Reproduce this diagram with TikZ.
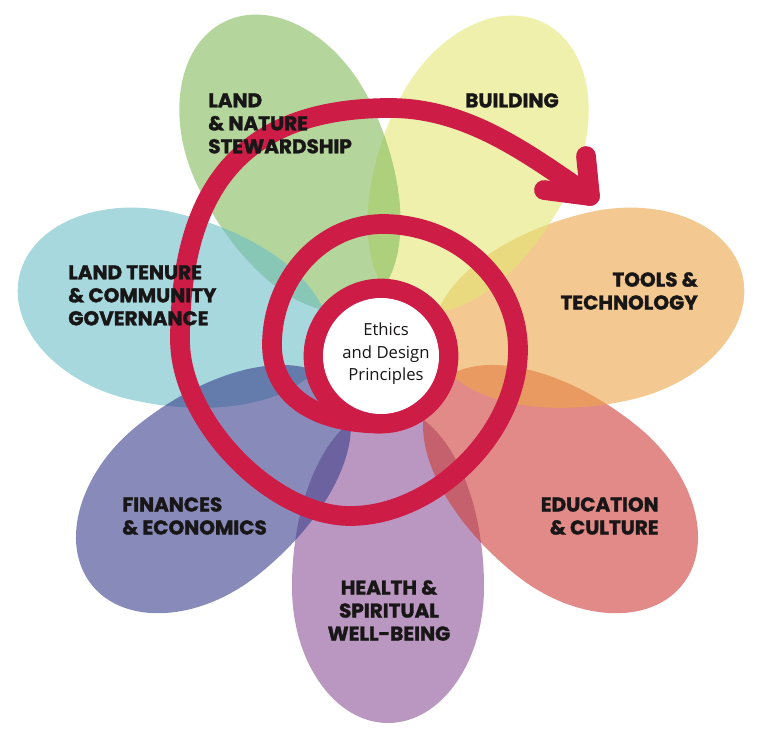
\documentclass[tikz,border=0pt]{standalone}
\usepackage{fontspec}
\newfontfamily\labfont{Poppins}[BoldFeatures={FakeBold=1.5}]
\newfontfamily\handfont{Open Sans}
\definecolor{cpurple}{RGB}{140,83,150}
\definecolor{cred}{RGB}{205,60,55}
\definecolor{corange}{RGB}{237,165,73}
\definecolor{cyellow}{RGB}{227,230,117}
\definecolor{cgreen}{RGB}{130,188,93}
\definecolor{cteal}{RGB}{107,190,200}
\definecolor{cblue}{RGB}{57,63,140}
\definecolor{spiralred}{RGB}{205,29,71}
\definecolor{labelblack}{RGB}{24,22,22}
\newcommand{\flowerpetal}[4]{%
  \begin{scope}[shift={(#1,#2)}, rotate=#3]
    \fill[petalfill, #4] (0,-96) arc[start angle=-90, end angle=90, x radius=136, y radius=96]
      arc[start angle=90, end angle=270, x radius=180, y radius=96] -- cycle;
  \end{scope}}
\tikzset{
  petalfill/.style={fill opacity=0.6},
  spiralline/.style={draw=spiralred, line width=14.8pt, line cap=round, line join=round},
  lab/.style={font=\labfont\bfseries\fontsize{15}{17.25}\selectfont, text=labelblack, inner sep=0pt},
  hand/.style={font=\handfont\fontsize{12.5}{17}\selectfont, text=labelblack, align=center, inner sep=0pt},
}
\begin{document}
\begin{tikzpicture}[x=0.75pt, y=-0.75pt]
\useasboundingbox (0,0) rectangle (768,735);
\fill[white] (0,0) rectangle (768,735);
% petals (bottom to top)
\flowerpetal{388}{587}{-90}{cpurple}
\flowerpetal{576}{500}{-38.57}{cred}
\flowerpetal{610}{306}{12.86}{corange}
\flowerpetal{484}{145}{64.29}{cyellow}
\flowerpetal{284}{144}{115.71}{cgreen}
\flowerpetal{152}{306}{167.14}{cteal}
\flowerpetal{198}{500}{218.57}{cblue}
% spiral
\coordinate (C) at (381,356);
\coordinate (start) at (381,423.5);
\coordinate (tip) at (590,196);
\coordinate (arm1) at (586,156);
\coordinate (arm2) at (544,190);
\draw[spiralline] (start)
 .. controls (313,423.5) and (272,393.7) .. (272,345)
 .. controls (272,278.2) and (321.7,224) .. (383,224)
 .. controls (457.6,224) and (518,280.4) .. (518,350)
 .. controls (518,433) and (434,516) .. (350,516)
 .. controls (271.8,516) and (180,421) .. (180,340)
 .. controls (180,182.2) and (247.2,108) .. (390,108)
 .. controls (470,108) and (532,157) .. (tip);
\draw[spiralline] (arm1) -- (tip) -- (arm2);
\draw[spiralline] (C) circle[radius=67.5];
\fill[white] (C) circle[radius=58];
% labels
\node[hand] (center) at (386,354) {Ethics\\and Design\\Principles};
\node[lab, anchor=north west, align=left] (lland) at (208,93) {LAND\\\& NATURE\\STEWARDSHIP};
\node[lab, anchor=north east, align=right] (lbuild) at (559,93) {BUILDING};
\node[lab, anchor=north west, align=left] (ltenure) at (68,265) {LAND TENURE\\\& COMMUNITY\\GOVERNANCE};
\node[lab, anchor=north east, align=right] (ltools) at (698,272) {TOOLS \&\\TECHNOLOGY};
\node[lab, anchor=north west, align=left] (lfin) at (122,497) {FINANCES\\\& ECONOMICS};
\node[lab, anchor=north east, align=right] (ledu) at (659,497) {EDUCATION\\\& CULTURE};
\node[lab, anchor=north, align=center] (lhealth) at (389,580) {HEALTH \&\\SPIRITUAL\\WELL-BEING};
\end{tikzpicture}
\end{document}
